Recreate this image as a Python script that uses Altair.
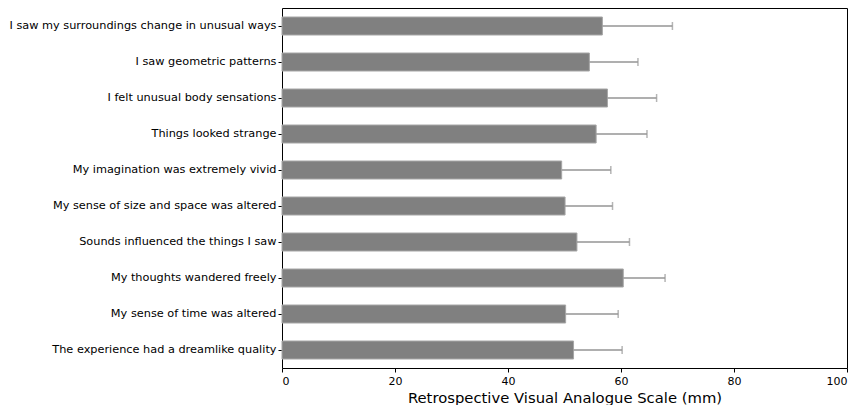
import altair as alt
import pandas as pd

items = [
    "I saw my surroundings change in unusual ways",
    "I saw geometric patterns",
    "I felt unusual body sensations",
    "Things looked strange",
    "My imagination was extremely vivid",
    "My sense of size and space was altered",
    "Sounds influenced the things I saw",
    "My thoughts wandered freely",
    "My sense of time was altered",
    "The experience had a dreamlike quality",
]
means = [56.7, 54.4, 57.6, 55.6, 49.5, 50.1, 52.2, 60.4, 50.2, 51.6]
errs = [12.4, 8.6, 8.7, 9.0, 8.7, 8.4, 9.3, 7.4, 9.3, 8.6]

df = pd.DataFrame({"item": items, "mean": means, "err": errs})
df["hi"] = df["mean"] + df["err"]

y = alt.Y("item:N", sort=items, title=None,
          scale=alt.Scale(paddingInner=0.5, paddingOuter=0.25),
          axis=alt.Axis(labelFont="DejaVu Sans", labelFontSize=11.3, labelColor="black",
                        tickColor="black", tickSize=4, labelPadding=2,
                        domain=False, labelLimit=400))
xscale = alt.Scale(domain=[0, 100], nice=False)

bars = alt.Chart(df).mark_bar(color="#808080", stroke="#a6a6a6", strokeWidth=1).encode(
    x=alt.X("mean:Q", scale=xscale, title="Retrospective Visual Analogue Scale (mm)",
            axis=alt.Axis(values=[0, 20, 40, 60, 80, 100], grid=False,
                          labelFont="DejaVu Sans", labelFontSize=11, labelColor="black",
                          tickColor="black", tickSize=4, labelPadding=3, domain=False,
                          titleFont="DejaVu Sans", titleFontSize=14.8,
                          titleFontWeight="normal", titleColor="black", titlePadding=4)),
    y=y,
)
rules = alt.Chart(df).mark_rule(color="#959595", strokeWidth=1.5).encode(
    x=alt.X("mean:Q", scale=xscale), x2="hi:Q", y=alt.Y("item:N", sort=items))
caps = alt.Chart(df).mark_tick(color="#959595", thickness=1.5, size=8, orient="vertical").encode(
    x=alt.X("hi:Q", scale=xscale), y=alt.Y("item:N", sort=items))

chart = (bars + rules + caps).properties(
    width=842, height=397,
    autosize=alt.AutoSizeParams(type="fit", contains="padding"),
    padding={"left": 0, "top": 0, "right": 2, "bottom": 0},
).configure_view(stroke="black", strokeWidth=1).configure_axis(grid=False)

chart.save("out.html", embed_options={"renderer": "svg", "actions": False})
